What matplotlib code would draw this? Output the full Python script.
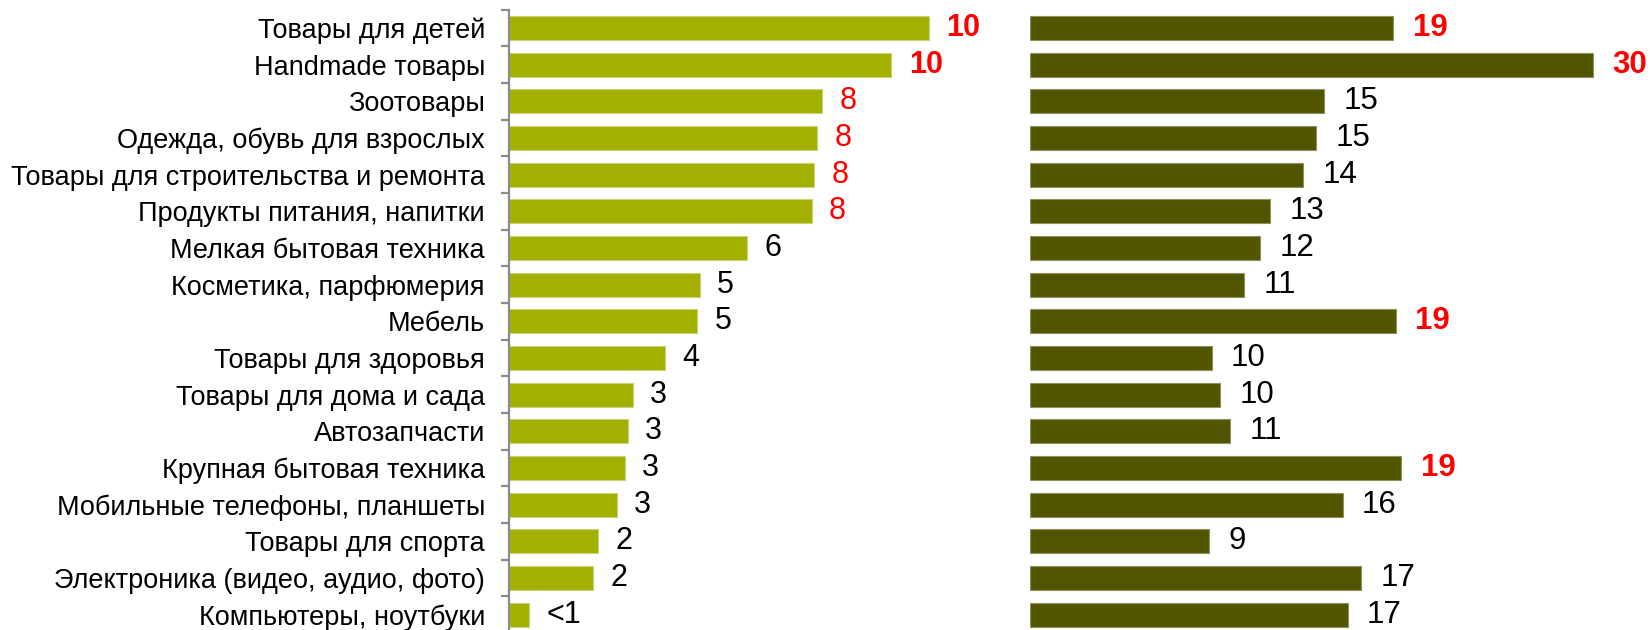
import matplotlib
matplotlib.use("Agg")
import matplotlib.pyplot as plt
import numpy as np

plt.rcParams['font.family'] = ['Liberation Sans', 'DejaVu Sans']

categories = [
    "Товары для детей",
    "Handmade товары",
    "Зоотовары",
    "Одежда, обувь для взрослых",
    "Товары для строительства и ремонта",
    "Продукты питания, напитки",
    "Мелкая бытовая техника",
    "Косметика, парфюмерия",
    "Мебель",
    "Товары для здоровья",
    "Товары для дома и сада",
    "Автозапчасти",
    "Крупная бытовая техника",
    "Мобильные телефоны, планшеты",
    "Товары для спорта",
    "Электроника (видео, аудио, фото)",
    "Компьютеры, ноутбуки",
]

left_values = [10.47, 9.53, 7.81, 7.67, 7.61, 7.54, 5.94, 4.75, 4.68, 3.88,
               3.08, 2.95, 2.88, 2.68, 2.22, 2.09, 0.49]
left_labels = ["10", "10", "8", "8", "8", "8", "6", "5", "5", "4",
               "3", "3", "3", "3", "2", "2", "<1"]
left_styles = ["hb", "hb", "h", "h", "h", "h", "n", "n", "n", "n",
               "n", "n", "n", "n", "n", "n", "n"]

right_values = [19.06, 29.55, 15.43, 15.02, 14.32, 12.62, 12.06, 11.23, 19.20, 9.53,
                9.97, 10.51, 19.48, 16.41, 9.40, 17.39, 16.67]
right_labels = ["19", "30", "15", "15", "14", "13", "12", "11", "19", "10",
                "10", "11", "19", "16", "9", "17", "17"]
right_styles = ["hb", "hb", "n", "n", "n", "n", "n", "n", "hb", "n",
                "n", "n", "hb", "n", "n", "n", "n"]

W, H = 1650, 630
fig = plt.figure(figsize=(W / 100, H / 100), dpi=100)

top_px = 9.67
bot_px = 633.0
ax_h = (bot_px - top_px) / H
ax_b = (H - bot_px) / H

left_x0 = 509.3
left_x1 = 1000.0
right_x0 = 1030.0
right_x1 = 1650.0

axL = fig.add_axes([left_x0 / W, ax_b, (left_x1 - left_x0) / W, ax_h])
axR = fig.add_axes([right_x0 / W, ax_b, (right_x1 - right_x0) / W, ax_h])

y = np.arange(len(categories))
bar_h = 0.655

axL.barh(y, left_values, height=bar_h, color="#A3B000", edgecolor="#CBD27A", linewidth=0.8)
axR.barh(y, right_values, height=bar_h, color="#525500", edgecolor="#8F8F60", linewidth=0.8)

axL.set_xlim(0, (left_x1 - left_x0) / 40.1)
axR.set_xlim(0, (right_x1 - right_x0) / 19.05)
for ax in (axL, axR):
    ax.set_ylim(len(categories) - 0.5, -0.5)
    ax.set_xticks([])
    for s in ("top", "right", "bottom"):
        ax.spines[s].set_visible(False)

axR.spines["left"].set_visible(False)
axR.set_yticks([])

axL.spines["left"].set_color("#8C8C8C")
axL.spines["left"].set_linewidth(1.6)
axL.set_yticks(y)
axL.set_yticklabels(categories, fontsize=19.5, color="black")
axL.tick_params(axis="y", which="major", length=0, pad=17.5)
axL.set_yticks(np.arange(len(categories) + 1) - 0.5, minor=True)
axL.tick_params(axis="y", which="minor", length=5.5, width=1.6, color="#8C8C8C")


def add_labels(ax, values, labels, styles, size, offset):
    for yi, v, lab, st in zip(y, values, labels, styles):
        color = "#FF0000" if st.startswith("h") else "black"
        weight = "bold" if st == "hb" else "normal"
        ax.annotate(lab, xy=(v, yi), xytext=(offset, 0), textcoords="offset points",
                    ha="left", va="center", fontsize=size, color=color,
                    fontweight=weight, annotation_clip=False)


add_labels(axL, left_values, left_labels, left_styles, 22, 12.5)
add_labels(axR, right_values, right_labels, right_styles, 22.5, 14)

fig.savefig("out.png", dpi=100)
